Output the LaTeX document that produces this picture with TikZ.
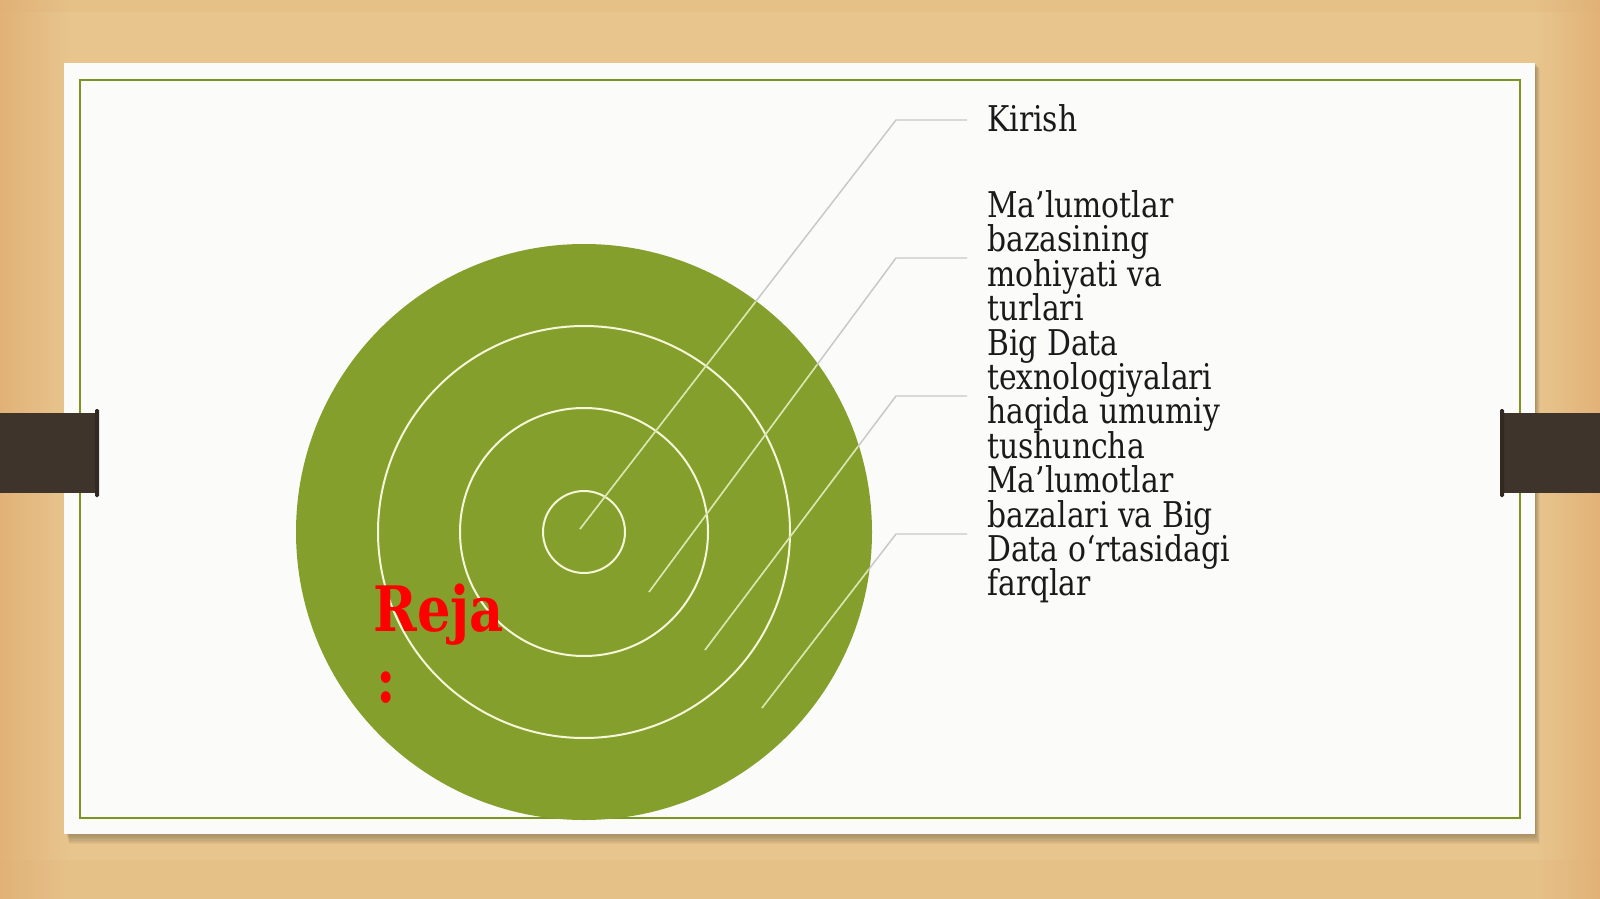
\documentclass[tikz,border=0pt]{standalone}
\usepackage{fontspec}
\setmainfont[FakeStretch=0.84]{DejaVu Serif}
\definecolor{wood}{RGB}{231,197,141}
\definecolor{woodd}{RGB}{225,178,120}
\definecolor{card}{RGB}{251,251,250}
\definecolor{frameg}{RGB}{122,150,30}
\definecolor{olive}{RGB}{133,159,44}
\definecolor{ringc}{RGB}{244,247,216}
\definecolor{leadg}{RGB}{200,200,200}
\definecolor{leadl}{RGB}{218,232,165}
\definecolor{tabc}{RGB}{62,52,43}
\definecolor{txt}{RGB}{26,26,26}
\begin{document}
\begin{tikzpicture}[x=0.75pt,y=-0.75pt,
  lead/.style={leadg, line width=1.1pt},
  leadin/.style={leadl, line width=1.1pt},
  ringline/.style={circle, draw=ringc, line width=1.5pt, inner sep=0pt},
  itemtext/.style={anchor=base west, inner sep=0pt, text=txt, font=\fontsize{26.6}{25.8}\selectfont},
  rejatext/.style={anchor=base west, inner sep=0pt, text=red, font=\fontsize{47}{53}\selectfont\bfseries}]
\useasboundingbox (0,0) rectangle (1600,899);
% wooden background
\fill[wood] (0,0) rectangle (1600,899);
\shade[left color=woodd, right color=wood] (0,0) rectangle (70,899);
\shade[left color=wood, right color=woodd] (1535,0) rectangle (1600,899);
\fill[woodd, opacity=0.25] (0,0) rectangle (1600,12);
\fill[woodd, opacity=0.2] (0,860) rectangle (1600,899);
% card shadow
\foreach \i in {1,...,8}
  \fill[black, opacity=0.035] (66+\i*0.4,63+\i*0.6) rectangle (1535+\i*0.6,834+\i*1.3);
% card
\fill[card] (64,63) rectangle (1535,834);
\draw[frameg, line width=1.3pt] (80,80) rectangle (1520,818);
% target
\node[circle, fill=olive, minimum size=432pt, inner sep=0pt] (disc) at (584,532) {};
\node[ringline, minimum size=309pt] (r3) at (disc.center) {};
\node[ringline, minimum size=186pt] (r2) at (disc.center) {};
\node[ringline, minimum size=61.5pt] (r1) at (disc.center) {};
% leader coordinates
\coordinate (h1) at (967,120); \coordinate (e1) at (896,120); \coordinate (c1) at (580,529);
\coordinate (h2) at (967,258); \coordinate (e2) at (896,258); \coordinate (c2) at (649,592);
\coordinate (h3) at (967,396); \coordinate (e3) at (896,396); \coordinate (c3) at (705,650);
\coordinate (h4) at (967,534); \coordinate (e4) at (896,534); \coordinate (c4) at (762,708);
\draw[lead] (h1) -- (e1) -- (c1);
\draw[lead] (h2) -- (e2) -- (c2);
\draw[lead] (h3) -- (e3) -- (c3);
\draw[lead] (h4) -- (e4) -- (c4);
\begin{scope}
  \clip (disc.center) circle (215pt);
  \draw[leadin] (e1) -- (c1);
  \draw[leadin] (e2) -- (c2);
  \draw[leadin] (e3) -- (c3);
  \draw[leadin] (e4) -- (c4);
\end{scope}
% tabs
\fill[tabc] (0,413) rectangle (97,493);
\fill[tabc!80!black, rounded corners=1pt] (95,409) rectangle (99,497);
\fill[tabc] (1503,413) rectangle (1600,493);
\fill[tabc!80!black, rounded corners=1pt] (1500,409) rectangle (1504,497);
% texts
\node[itemtext] (t1) at (987,132) {Kirish};
\node[itemtext] (t2a) at (987,217.5) {Ma’lumotlar};
\node[itemtext] (t2b) at (987,251.9) {bazasining};
\node[itemtext] (t2c) at (987,286.3) {mohiyati va};
\node[itemtext] (t2d) at (987,320.7) {turlari};
\node[itemtext] (t3a) at (987,355.1) {Big Data};
\node[itemtext] (t3b) at (987,389.5) {texnologiyalari};
\node[itemtext] (t3c) at (987,423.9) {haqida umumiy};
\node[itemtext] (t3d) at (987,458.3) {tushuncha};
\node[itemtext] (t4a) at (987,492.7) {Ma’lumotlar};
\node[itemtext] (t4b) at (987,527.1) {bazalari va Big};
\node[itemtext] (t4c) at (987,561.5) {Data o‘rtasidagi};
\node[itemtext] (t4d) at (987,595.9) {farqlar};
\node[rejatext] (reja) at (373,631) {Reja};
\node[rejatext] (colon) at (376,702) {:};
\end{tikzpicture}
\end{document}
